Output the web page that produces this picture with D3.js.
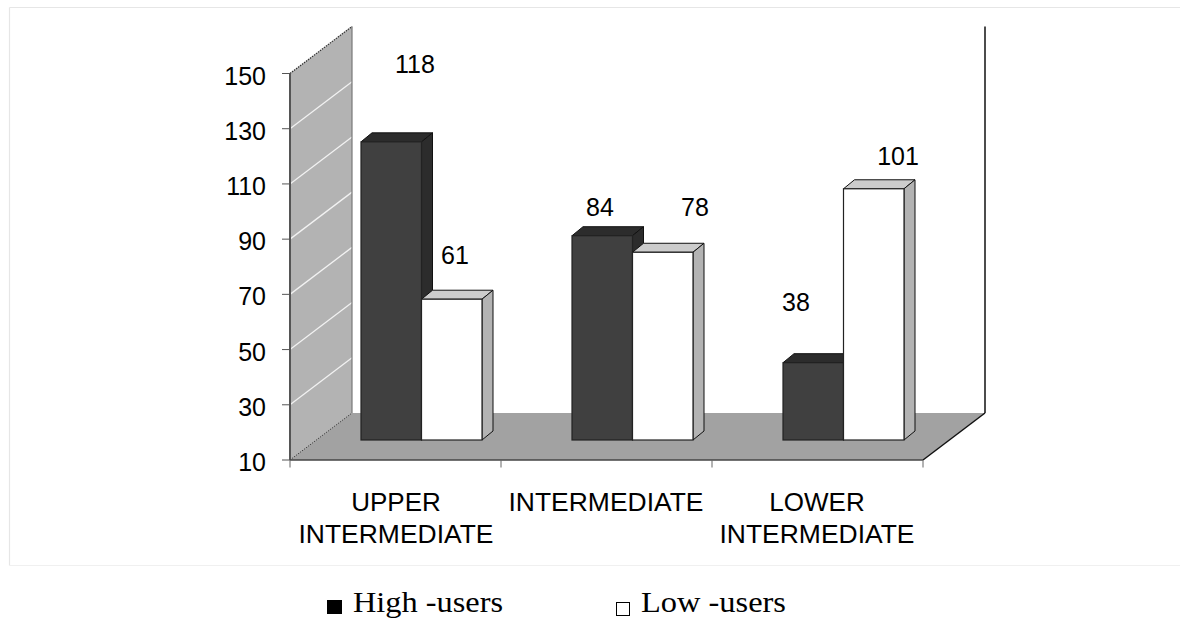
<!DOCTYPE html>
<html><head><meta charset="utf-8">
<script src="https://cdn.jsdelivr.net/npm/d3@7"></script>
<style>html,body{margin:0;padding:0;background:#fff;overflow:hidden}svg{display:block}
text{font-family:"Liberation Sans",Arial,sans-serif;fill:#000}</style></head>
<body><svg id="c" width="1180" height="620"></svg>
<script>
const categories=[["UPPER","INTERMEDIATE"],["INTERMEDIATE"],["LOWER","INTERMEDIATE"]];
const seriesNames=["High -users","Low -users"];
const highUsers=[118,84,38];
const lowUsers=[61,78,101];
const yTicks=[10,30,50,70,90,110,130,150];

const svg=d3.select("#c");
const x0=290,x1=923,floorY=460,topY=73.5;
const wallDx=62,wallDy=47,barDx=11,barDy=9,barInset=71,barW=60.5,barBaseY=440;
const y=d3.scaleLinear().domain([10,150]).range([floorY,topY]);
const x=d3.scaleBand().domain(d3.range(3)).range([x0,x1]);
const poly=(pts,fill,stroke,sw)=>svg.append("polygon").attr("points",pts.map(p=>p.join(",")).join(" "))
  .attr("fill",fill).attr("stroke",stroke||"none").attr("stroke-width",sw||0).attr("stroke-linejoin","round");
const line=(a,b,c,w,dash)=>{const l=svg.append("line").attr("x1",a[0]).attr("y1",a[1]).attr("x2",b[0]).attr("y2",b[1]).attr("stroke",c).attr("stroke-width",w);if(dash)l.attr("stroke-dasharray",dash);return l;};

// outer frame
line([9.5,7.5],[1180,7.5],"#e6e6e6",1.2);
line([9.5,7.5],[9.5,565.5],"#e6e6e6",1.2);
line([9.5,565.5],[1180,565.5],"#f0f0f0",1);

// floor
poly([[x0,floorY],[x1,floorY],[x1+wallDx,floorY-wallDy],[x0+wallDx,floorY-wallDy]],"#a2a2a2");
// left wall
poly([[x0,floorY],[x0,y(150)],[x0+wallDx,y(150)-wallDy],[x0+wallDx,floorY-wallDy]],"#b3b3b3");
// gridlines
yTicks.filter(t=>t>10&&t<150).forEach(t=>line([x0,y(t)],[x0+wallDx,y(t)-wallDy],"#f2f2f2",1.3));
// wall edges
line([x0,y(150)],[x0+wallDx,y(150)-wallDy],"#333",1.2,"1.5 1");
line([x0,floorY],[x0+wallDx,floorY-wallDy],"#444",1,"1.5 1");
line([x0+wallDx,y(150)-wallDy],[x0+wallDx,floorY-wallDy],"#777",1.2);
line([x0,y(150)],[x0,floorY],"#555",2);
// right back edge
line([x1+wallDx,y(150)-wallDy],[x1+wallDx,floorY-wallDy],"#111",1.5);
line([x1,floorY],[x1+wallDx,floorY-wallDy],"#111",1.5);
line([x0,floorY],[x1,floorY],"#444",1.5);

// axes ticks
yTicks.forEach(t=>{
  line([x0-8,y(t)],[x0,y(t)],"#555",1);
  svg.append("text").attr("x",266).attr("y",y(t)+11).attr("text-anchor","end").attr("font-size",25).text(t);
});
d3.range(4).forEach(i=>{const px=i<3?x(i):x1;line([px,floorY],[px,467.5],"#666",1);});

// bars
const barH=v=>barBaseY-(y(10)-y(v));
function topSide(bx,v,topC,sideC){
  const t=barH(v),r=bx+barW;
  poly([[bx,t],[bx+barDx,t-barDy],[r+barDx,t-barDy],[r,t]],topC,"#111",1);
  poly([[r,t],[r+barDx,t-barDy],[r+barDx,barBaseY-barDy],[r,barBaseY]],sideC,"#111",1);
}
function front(bx,v,c){
  const t=barH(v);
  svg.append("rect").attr("x",bx).attr("y",t).attr("width",barW).attr("height",barBaseY-t).attr("fill",c).attr("stroke","#222").attr("stroke-width",1.2);
}
d3.range(3).forEach(i=>{
  const bx=x(i)+barInset;
  topSide(bx,highUsers[i],"#2c2c2c","#2c2c2c");
  front(bx,highUsers[i],"#404040");
  topSide(bx+barW,lowUsers[i],"#cccccc","#b3b3b3");
  front(bx+barW,lowUsers[i],"#ffffff");
});

// value labels
const lbl=(px,py,s)=>svg.append("text").attr("x",px).attr("y",py).attr("text-anchor","middle").attr("font-size",25).text(s);
const highLabelPos=[[415,73],[600,216],[796,311]];
const lowLabelPos=[[455,264],[695,216],[898,165]];
highUsers.forEach((v,i)=>lbl(highLabelPos[i][0],highLabelPos[i][1],v));
lowUsers.forEach((v,i)=>lbl(lowLabelPos[i][0],lowLabelPos[i][1],v));

// category labels
const catCenter=[396,606,817];
categories.forEach((c,i)=>{
  c.forEach((s,j)=>svg.append("text").attr("x",catCenter[i]).attr("y",511+j*32).attr("text-anchor","middle").attr("font-size",26).attr("textLength",s.length>6?195:null).attr("lengthAdjust","spacingAndGlyphs").text(s));
});

// legend
const lg=svg.append("g");
lg.append("rect").attr("x",327).attr("y",600).attr("width",15).attr("height",14).attr("fill","#000");
lg.append("text").attr("x",353).attr("y",612).attr("font-size",30).attr("textLength",150).attr("lengthAdjust","spacingAndGlyphs").style("font-family","'Liberation Serif',serif").text(seriesNames[0]);
lg.append("rect").attr("x",616.5).attr("y",602.5).attr("width",13).attr("height",13).attr("fill","#fff").attr("stroke","#000").attr("stroke-width",1);
lg.append("text").attr("x",641).attr("y",612).attr("font-size",30).attr("textLength",145).attr("lengthAdjust","spacingAndGlyphs").style("font-family","'Liberation Serif',serif").text(seriesNames[1]);
</script></body></html>
